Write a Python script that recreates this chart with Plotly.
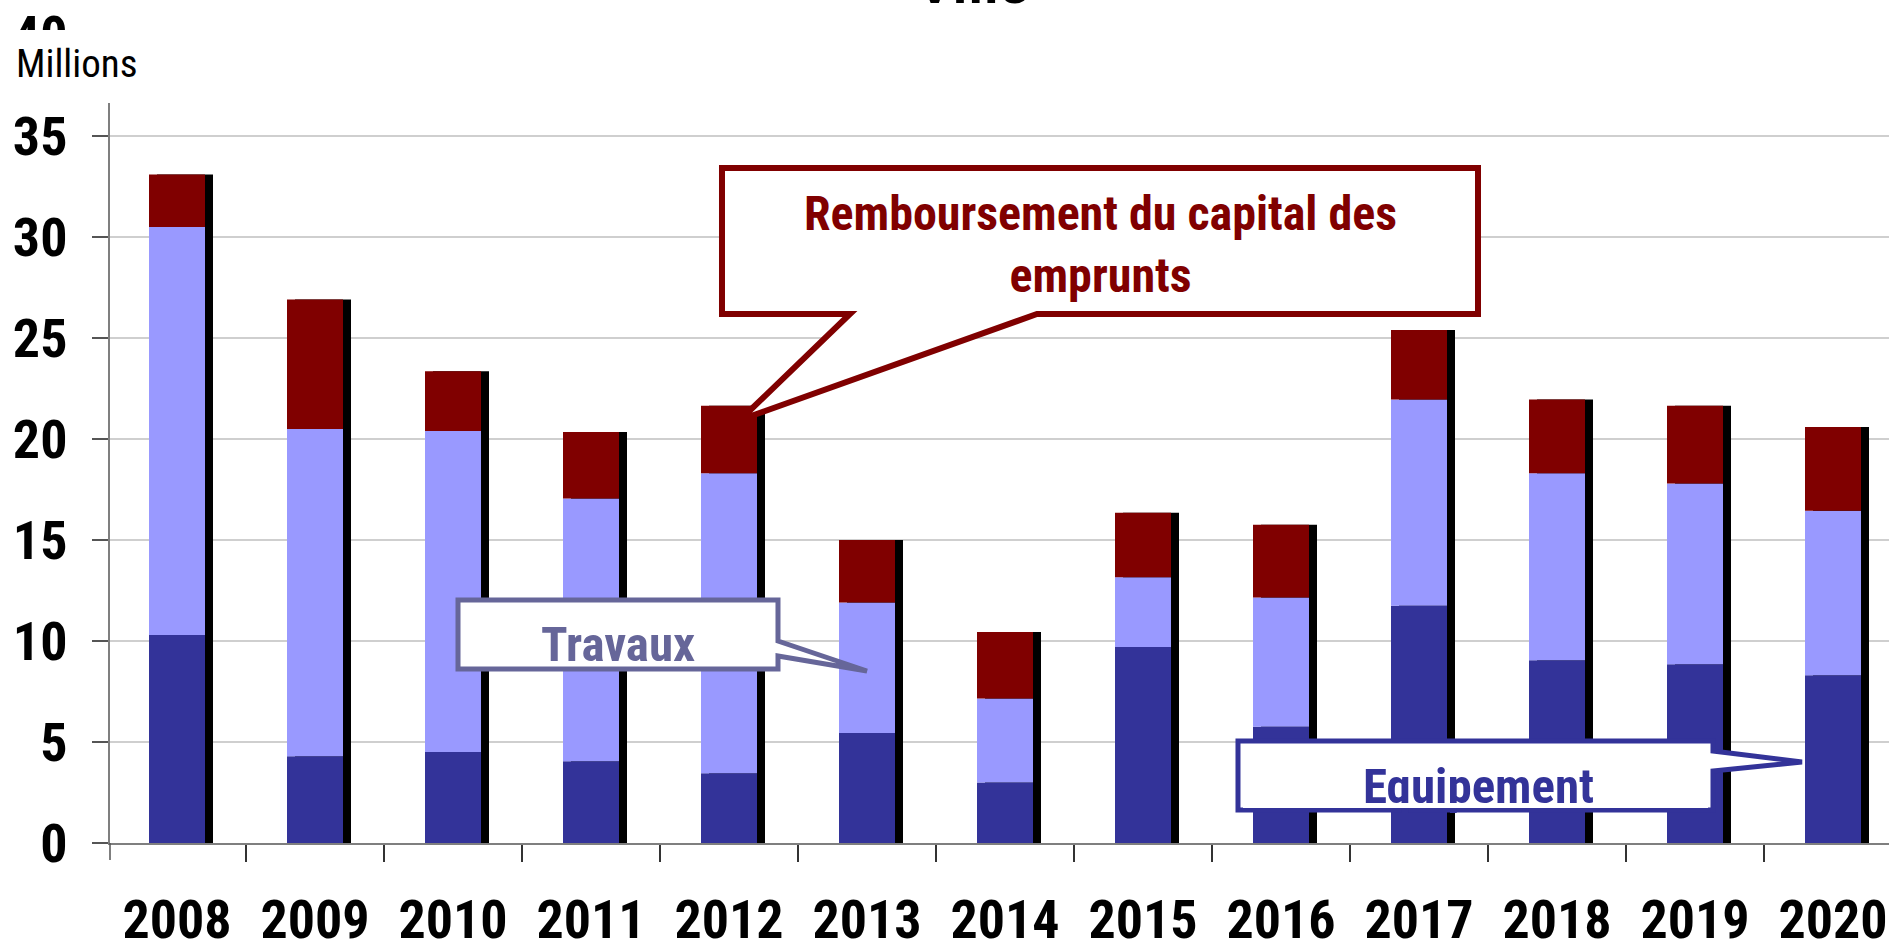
import plotly.graph_objects as go

# ---------------- data ----------------
years = ["2008", "2009", "2010", "2011", "2012", "2013", "2014",
         "2015", "2016", "2017", "2018", "2019", "2020"]
equipement = [10.3, 4.3, 4.5, 4.05, 3.45, 5.45, 3.0, 9.7, 5.75, 11.75, 9.05, 8.85, 8.3]
travaux = [20.2, 16.2, 15.9, 13.0, 14.85, 6.45, 4.15, 3.45, 6.4, 10.2, 9.25, 8.95, 8.15]
remboursement = [2.6, 6.4, 2.95, 3.3, 3.35, 3.1, 3.3, 3.2, 3.6, 3.45, 3.65, 3.85, 4.15]
y_ticks = [0, 5, 10, 15, 20, 25, 30, 35, 40]

# ---------------- layout geometry (pixels) ----------------
W, H = 1889, 948
X0, X1 = 110, 1889
YT, YB = 35, 843
CAT_W = 138.0
PX_PER_UNIT = (YB - YT) / 40.0

def px(x):
    return (x - X0) / (X1 - X0)

def py(y):
    return (YB - y) / (YB - YT)

FONT = "Roboto Condensed, Liberation Sans Narrow, Arial Narrow, sans-serif"
C_EQ = "#333399"
C_TR = "#9999FF"
C_RE = "#800000"
C_TRL = "#666699"

bar_w = 56 / CAT_W
base_tr = [e for e in equipement]
base_re = [e + t for e, t in zip(equipement, travaux)]
totals = [e + t + r for e, t, r in zip(equipement, travaux, remboursement)]

fig = go.Figure()
# drop shadow behind each stacked column
fig.add_trace(go.Bar(x=years, y=[t + 5 / PX_PER_UNIT for t in totals],
                     base=-5 / PX_PER_UNIT, width=bar_w,
                     offset=-bar_w / 2 + 8 / CAT_W,
                     marker=dict(color="black", line=dict(width=0)),
                     showlegend=False, hoverinfo="skip"))
fig.add_trace(go.Bar(x=years, y=equipement, base=0, width=bar_w, offset=-bar_w / 2,
                     marker=dict(color=C_EQ, line=dict(width=0)), name="Equipement"))
fig.add_trace(go.Bar(x=years, y=travaux, base=base_tr, width=bar_w, offset=-bar_w / 2,
                     marker=dict(color=C_TR, line=dict(width=0)), name="Travaux"))
fig.add_trace(go.Bar(x=years, y=remboursement, base=base_re, width=bar_w, offset=-bar_w / 2,
                     marker=dict(color=C_RE, line=dict(width=0)),
                     name="Remboursement du capital des emprunts"))

x_start = -(177 - X0) / CAT_W
fig.update_layout(
    width=W, height=H,
    margin=dict(l=X0, r=W - X1, t=YT, b=H - YB, pad=0, autoexpand=False),
    paper_bgcolor="white", plot_bgcolor="white",
    barmode="overlay", showlegend=False,
    xaxis=dict(type="category", range=[x_start, x_start + (X1 - X0) / CAT_W],
               automargin=False,
               showgrid=False, showline=True, linecolor="#7f7f7f", linewidth=1.5,
               ticks="outside", tickson="boundaries", ticklen=17, tickwidth=1.5,
               tickcolor="#333333",
               tickfont=dict(family=FONT, size=54, color="black", weight="bold"),
               ticklabelstandoff=28),
    yaxis=dict(range=[0, 40], tickvals=y_ticks, automargin=False,
               showgrid=True, gridcolor="#cfcfcf",
               gridwidth=1.5, zeroline=False, showline=True, linecolor="#7f7f7f",
               linewidth=1.5, ticks="outside", ticklen=16, tickwidth=1.5,
               tickcolor="#555555",
               tickfont=dict(family=FONT, size=54, color="black", weight="bold"),
               ticklabelstandoff=14),
)

def poly(points):
    return "M " + " L ".join(f"{px(x):.5f},{py(y):.5f}" for x, y in points) + " Z"

shapes = []
# first category boundary tick, under the y axis
shapes.append(dict(type="line", xref="paper", yref="paper", x0=px(110), x1=px(110),
                   y0=py(843), y1=py(860), line=dict(color="#555555", width=1.5)))
# Remboursement callout
shapes.append(dict(type="path", xref="paper", yref="paper",
                   path=poly([(722, 168), (1478, 168), (1478, 314), (1037, 314),
                              (740, 420), (850, 314), (722, 314)]),
                   fillcolor="white", line=dict(color=C_RE, width=6), layer="above"))
# Travaux callout
shapes.append(dict(type="path", xref="paper", yref="paper",
                   path=poly([(458, 600), (778, 600), (778, 641), (867, 671),
                              (778, 656), (778, 669), (458, 669)]),
                   fillcolor="white", line=dict(color=C_TRL, width=5), layer="above"))
# Equipement callout
shapes.append(dict(type="path", xref="paper", yref="paper",
                   path=poly([(1238, 741), (1713, 741), (1713, 751), (1802, 762),
                              (1713, 771), (1713, 810), (1238, 810)]),
                   fillcolor="white", line=dict(color=C_EQ, width=5), layer="above"))
fig.update_layout(shapes=shapes)

ann = []
# white text-box background behind "Millions" (hides the top of the axis and the "40" label)
ann.append(dict(text=" ", xref="paper", yref="paper", x=px(0), y=py(30),
                xanchor="left", yanchor="top", showarrow=False, width=135, height=73,
                bgcolor="white", borderpad=0, borderwidth=0, font=dict(size=4)))
ann.append(dict(text="Millions", xref="paper", yref="paper", x=px(14), y=py(64),
                xanchor="left", yanchor="middle", showarrow=False,
                font=dict(family=FONT, size=39, color="black")))
ann.append(dict(text="<b>Ville</b>", xref="paper", yref="paper", x=px(973), y=py(17),
                xanchor="center", yanchor="bottom", showarrow=False,
                font=dict(family="Liberation Sans, Arial, sans-serif", size=56, color="black")))
ann.append(dict(text="<b>Remboursement du capital des<br>emprunts</b>", xref="paper",
                yref="paper", x=px(1100), y=py(244), xanchor="center", yanchor="middle",
                showarrow=False, align="center",
                font=dict(family=FONT, size=48, color=C_RE)))
ann.append(dict(text="<b>Travaux</b>", xref="paper", yref="paper", x=px(618), y=py(644),
                xanchor="center", yanchor="middle", showarrow=False,
                font=dict(family=FONT, size=49, color=C_TRL)))
ann.append(dict(text="<b>Equipement</b>", xref="paper", yref="paper", x=px(1478), y=py(786),
                xanchor="center", yanchor="middle", showarrow=False,
                font=dict(family=FONT, size=49, color=C_EQ)))
# white patch clipping the descenders of "Equipement" like the original text box
ann.append(dict(text=" ", xref="paper", yref="paper", x=px(1475), y=py(803),
                xanchor="center", yanchor="top", showarrow=False, width=465, height=5,
                bgcolor="white", borderpad=0, borderwidth=0, font=dict(size=4)))
fig.update_layout(annotations=ann)

fig.write_html("out.html", config={"displayModeBar": False})
